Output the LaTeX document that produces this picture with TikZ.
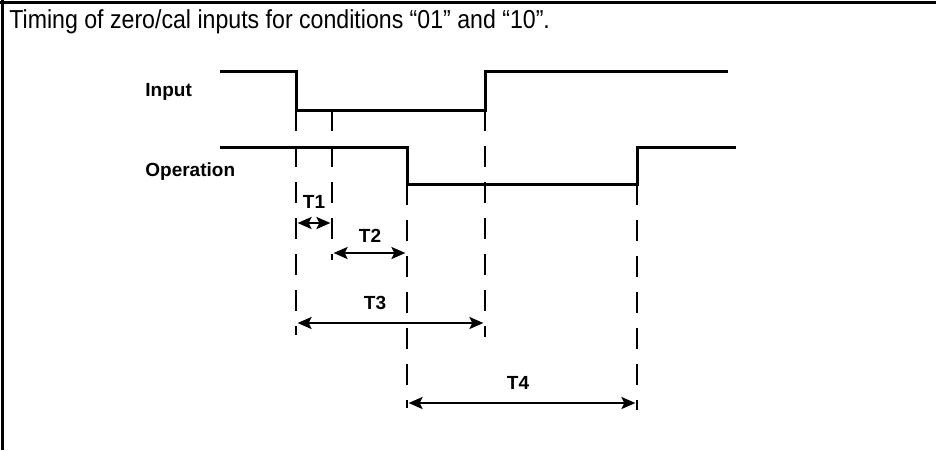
\documentclass[tikz,border=0pt]{standalone}
\usepackage{fontspec}
\setmainfont{Liberation Sans}
\newfontfamily\captionfont{Liberation Sans}[FakeStretch=0.89]
\usetikzlibrary{arrows.meta}

\begin{document}
\begin{tikzpicture}[x=0.5pt,y=-0.5pt,>={Stealth[length=7pt,width=6pt,inset=1.5pt]},
  signal/.style={line width=1.5pt,line join=miter},
  guide/.style={line width=1pt,dash pattern=on 10.5pt off 7.5pt},
  span/.style={<->,line width=1.2pt,shorten >=0.8pt,shorten <=0.8pt},
  lab/.style={inner sep=0pt,font=\fontsize{9.5}{11}\selectfont\bfseries}]
  \useasboundingbox (0,0) rectangle (936,450);
  \draw[line width=1.5pt] (0,2) -- (936,2) (2,0) -- (2,450);
  \node[anchor=base west,inner sep=0pt,font=\captionfont\fontsize{13}{15}\selectfont]
    (title) at (9,28) {Timing of zero/cal inputs for conditions “01” and “10”.};

  % signal names
  \node[lab,anchor=base west] (input) at (145,96) {Input};
  \node[lab,anchor=base west] (operation) at (145,176) {Operation};

  % waveforms
  \draw[signal] (220,71) -- (296,71) -- (296,110) -- (485,110) -- (485,71) -- (728,71);
  \draw[signal] (220,147) -- (407,147) -- (407,184) -- (637,184) -- (637,147) -- (736,147);

  % guide lines
  \foreach \x/\top/\bot in {296/110/335,332/110/260,407/184/408,485/110/337,637/184/410}
    \draw[guide] (\x,\top) -- (\x,\bot);

  % time spans
  \coordinate (t1a) at (296,223); \coordinate (t1b) at (332,223);
  \coordinate (t2a) at (332,253); \coordinate (t2b) at (407,253);
  \coordinate (t3a) at (296,323); \coordinate (t3b) at (485,323);
  \coordinate (t4a) at (407,403); \coordinate (t4b) at (637,403);
  \draw[span] (t1a) -- (t1b);
  \draw[span] (t2a) -- (t2b);
  \draw[span] (t3a) -- (t3b);
  \draw[span] (t4a) -- (t4b);
  \node[lab,anchor=base] (T1) at (314,208) {T1};
  \node[lab,anchor=base] (T2) at (370,242) {T2};
  \node[lab,anchor=base] (T3) at (375,309) {T3};
  \node[lab,anchor=base] (T4) at (518,389) {T4};
\end{tikzpicture}
\end{document}
